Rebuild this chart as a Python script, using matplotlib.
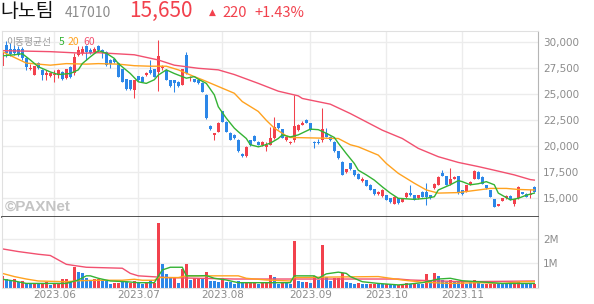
import matplotlib
matplotlib.use("Agg")
import matplotlib.pyplot as plt
import numpy as np

plt.rcParams['font.family'] = ['Noto Sans CJK KR', 'DejaVu Sans']

# daily candles, 2023-05-15 .. 2023-11-27 (index = trading day)
opens = [27750, 29750, 29400, 29400, 29400, 29350, 28450, 27400, 26850, 28050,
         27350, 26900, 26750, 26900, 26850, 27150, 26550, 27600, 27000, 28750,
         28950, 29600, 29300, 29100, 29650, 29250, 29100, 28300, 28350, 28050,
         27400, 26450, 26350, 25400, 26750, 26700, 26850, 27350, 27400, 27150,
         27500, 27350, 26350, 26350, 26200, 25900, 28800, 26550, 26450, 26350,
         26100, 24950, 21950, 21100, 21400, 23350, 22350, 21300, 21100, 20650,
         19300, 19050, 20600, 21000, 20450, 20150, 19950, 20150, 20750, 22200,
         21650, 20600, 20300, 20600, 21550, 22050, 22550, 22200, 20450, 20450,
         20600, 21250, 20900, 20450, 19500, 18500, 17550, 18350, 17700, 17350,
         16700, 16750, 16300, 15850, 15400, 15200, 15300, 15000, 14500, 15000,
         14650, 15100, 15500, 15300, 15000, 15650, 15650, 15300, 15950, 16300,
         17400, 17100, 16350, 16900, 17100, 15750, 15650, 16350, 16900, 17550,
         17050, 16250, 15750, 14900, 14300, 14750, 15000, 15250, 14500, 15000,
         15600, 15450, 15300, 16100]
highs = [29150, 30150, 29900, 29700, 29600, 29500, 28600, 27950, 27750, 28100,
         27400, 27350, 27150, 27350, 27400, 27250, 27450, 27700, 28950, 29600,
         29600, 29750, 29450, 29500, 29750, 29400, 29150, 28350, 28450, 28100,
         27450, 26500, 26400, 26400, 26800, 26750, 27100, 28300, 27450, 30200,
         27800, 27400, 26400, 26400, 26250, 27450, 29050, 26800, 26500, 26400,
         26150, 25000, 22000, 21300, 22300, 23400, 22400, 21350, 21150, 20700,
         19350, 20000, 20650, 21050, 20500, 20500, 20450, 21900, 22800, 22250,
         21700, 21000, 20500, 24900, 22100, 22400, 22600, 22250, 20500, 20700,
         23650, 21750, 20950, 20500, 19550, 18550, 17800, 18400, 17750, 17400,
         17000, 16800, 16350, 15900, 15700, 15850, 15350, 15050, 15200, 15050,
         15000, 15600, 16300, 15350, 15350, 15700, 16450, 15350, 16450, 17100,
         17700, 17150, 17950, 17100, 17150, 15800, 16300, 16650, 17700, 17600,
         17100, 16300, 15800, 14950, 14500, 15050, 15300, 15300, 14950, 16150,
         15650, 15500, 15850, 16150]
lows = [27700, 28600, 28700, 28800, 28700, 28300, 27350, 27300, 26850, 27400,
        26400, 26400, 26700, 26200, 26550, 26350, 26450, 26600, 26850, 28700,
        28800, 28300, 28900, 29000, 29100, 28450, 27700, 27500, 28000, 26650,
        26150, 25400, 25450, 24600, 26300, 26150, 26800, 26950, 26650, 25350,
        27300, 26350, 25700, 25250, 25700, 25850, 26950, 26300, 26150, 25950,
        25200, 22600, 21550, 20600, 21350, 22300, 21350, 20600, 20700, 19450,
        19000, 19000, 20050, 20500, 20100, 20050, 19500, 20100, 20700, 21650,
        20750, 20500, 20200, 20450, 21500, 22000, 22200, 21500, 19800, 20250,
        20450, 20850, 20550, 19450, 18800, 17200, 17450, 17750, 17150, 16850,
        16600, 16150, 15750, 15350, 15350, 15100, 14800, 14550, 14450, 14500,
        14600, 15050, 15250, 14800, 14900, 15100, 14350, 14950, 15900, 16250,
        17100, 16250, 16300, 16850, 15450, 15350, 15600, 16300, 16850, 16850,
        16350, 15900, 15150, 14150, 14250, 14700, 14950, 14800, 14300, 14950,
        15400, 15150, 15050, 15600]
closes = [29100, 28950, 28900, 28950, 28800, 28450, 27650, 27550, 27700, 27500,
          26850, 27000, 27050, 26950, 27350, 26450, 27400, 26700, 28600, 29250,
          29400, 29100, 29000, 29400, 29250, 29100, 27800, 27950, 28150, 26700,
          26200, 25500, 25500, 26350, 26350, 26200, 27050, 27000, 26700, 28650,
          27650, 26400, 25750, 26050, 25750, 27400, 27000, 26700, 26200, 26050,
          25250, 22700, 21650, 21250, 22250, 22350, 21400, 20650, 20750, 19500,
          19050, 19950, 20150, 20550, 20150, 20450, 20100, 20750, 21900, 21750,
          20800, 20900, 20450, 21950, 22050, 22200, 22200, 21550, 20300, 20300,
          21650, 20900, 20600, 19500, 18850, 17250, 17800, 17800, 17250, 16900,
          16900, 16200, 15800, 15400, 15650, 15800, 14850, 14650, 15150, 14550,
          14950, 15550, 15300, 14850, 15300, 15150, 15150, 15000, 16400, 17050,
          17150, 16300, 16900, 17050, 15500, 15400, 16250, 16600, 17650, 16900,
          16400, 15950, 15150, 14200, 14450, 15000, 15250, 14850, 14900, 16100,
          15400, 15150, 15430, 15650]

# traded volume (millions) and bar colour (R up / B down)
volumes = [0.47, 0.35, 0.30, 0.35, 0.24, 0.27, 0.19, 0.20, 0.20, 0.17,
           0.17, 0.24, 0.12, 0.17, 0.17, 0.35, 0.35, 0.24, 0.84, 0.63,
           0.58, 0.41, 0.30, 0.35, 0.35, 0.30, 0.27, 0.15, 0.17, 0.20,
           0.27, 0.24, 0.20, 0.27, 0.20, 0.15, 0.20, 0.30, 0.20, 2.65,
           0.97, 0.54, 0.38, 0.41, 0.17, 0.76, 0.95, 0.31, 0.41, 0.41,
           0.38, 0.63, 0.27, 0.27, 0.24, 0.38, 0.24, 0.24, 0.15, 0.27,
           0.20, 0.20, 0.20, 0.20, 0.15, 0.20, 0.17, 0.52, 0.43, 0.15,
           0.24, 0.20, 0.15, 1.91, 0.27, 0.23, 0.23, 0.20, 0.47, 0.30,
           1.75, 0.43, 0.27, 0.41, 0.41, 0.58, 0.23, 0.17, 0.15, 0.17,
           0.15, 0.15, 0.15, 0.15, 0.13, 0.13, 0.13, 0.10, 0.10, 0.10,
           0.15, 0.20, 0.15, 0.15, 0.15, 0.15, 0.56, 0.30, 0.60, 0.47,
           0.33, 0.23, 0.30, 0.23, 0.23, 0.23, 0.15, 0.23, 0.30, 0.20,
           0.15, 0.15, 0.15, 0.15, 0.15, 0.15, 0.15, 0.15, 0.15, 0.24,
           0.15, 0.15, 0.15, 0.15]
vol_dir = ("RBBRBRBBRB" "RRBRRRRBRB" "BBBRRBBBRR" "BBRRBBRBRR"
           "BBBRBRRBRR" "BRBBBRBBBB" "BRRRBRRRBB" "RBBRBBRBRB"
           "RBBRRRBBBR" "BBRRBBRBBR" "RRBRBBRBRB" "BBRBBRBBRB"
           "BRRRBBBBRR" "BBBR")

# moving averages (day index, value)
ma5_day = [0, 3, 5, 7, 9, 12, 14, 17, 19, 20, 22, 24, 26, 28, 29, 32, 34, 36, 38, 39,
           41, 43, 45, 46, 48, 49, 51, 53, 54, 56, 58, 59, 61, 62, 64, 65, 67, 69, 70, 72,
           74, 77, 79, 81, 83, 84, 86, 88, 89, 91, 93, 95, 97, 99, 103, 106, 108, 109, 112, 114,
           115, 117, 119, 121, 123, 124, 127, 129, 131, 133]
ma5_val = [28700, 28800, 28900, 28300, 27650, 27150, 26900, 27000, 27350, 27950,
           28600, 29200, 28950, 28450, 27950, 27000, 26200, 26050, 26400, 26850,
           27350, 27000, 26700, 26550, 26700, 26450, 26050, 24950, 23800, 22700,
           21750, 21400, 20750, 20150, 19950, 20050, 20300, 20750, 21100, 20900,
           21100, 21650, 21600, 21250, 20850, 20300, 19300, 18350, 17700, 17250,
           16750, 16100, 15500, 15000, 14900, 15000, 15150, 15800, 16300, 16700,
           16600, 16300, 16400, 16600, 16300, 15500, 14850, 15000, 15300, 15500]
ma20_day = [0, 6, 12, 16, 21, 24, 29, 33, 37, 41, 44, 48, 50, 54, 58, 60, 64, 66, 68, 71,
            72, 84, 87, 89, 94, 96, 99, 103, 106, 109, 114, 116, 119, 122, 126, 129, 133]
ma20_val = [29100, 28000, 27800, 27950, 27900, 27950, 27900, 27750, 27700, 27700,
            27350, 26700, 26400, 25750, 25100, 24300, 23350, 22500, 21750, 21000,
            20850, 20750, 20150, 19950, 19150, 18350, 17400, 16450, 15800, 15500,
            15550, 15650, 15800, 15950, 15950, 15850, 15800]
ma60_day = [0, 12, 20, 24, 33, 39, 43, 49, 54, 58, 64, 69, 74, 75, 82, 87, 91, 95, 100, 104,
            109, 114, 119, 123, 128, 132, 133]
ma60_val = [29200, 29100, 28950, 29000, 28800, 28300, 27800, 27500, 27350, 26900,
            26050, 25300, 24850, 24600, 24050, 23150, 22350, 21550, 20750, 19800,
            19000, 18450, 18050, 17700, 17250, 16800, 16750]

vma5_day = [0, 3, 6, 10, 16, 19, 21, 22, 24, 27, 31, 34, 38, 40, 42, 45, 46, 49, 51, 53,
            56, 59, 64, 72, 73, 78, 79, 81, 84, 86, 87, 90, 94, 99, 102, 105, 109, 112, 115, 119,
            125, 133]
vma5_val = [0.34, 0.27, 0.17, 0.17, 0.17, 0.31, 0.48, 0.48, 0.38, 0.27, 0.24, 0.20, 0.20,
            0.72, 0.83, 0.83, 0.48, 0.48, 0.49, 0.38, 0.31, 0.20, 0.20, 0.20, 0.48, 0.48,
            0.38, 0.56, 0.63, 0.58, 0.45, 0.24, 0.17, 0.11, 0.15, 0.20, 0.35, 0.38, 0.28,
            0.24, 0.17, 0.17]
vma20_day = [0, 3, 6, 9, 16, 19, 24, 30, 33, 35, 38, 39, 44, 46, 59, 61, 66, 72, 73, 82,
             94, 100, 105, 112, 119, 125, 130, 133]
vma20_val = [0.58, 0.45, 0.35, 0.27, 0.24, 0.28, 0.30, 0.30, 0.34, 0.30, 0.30, 0.41, 0.41,
             0.48, 0.48, 0.38, 0.31, 0.27, 0.41, 0.43, 0.45, 0.31, 0.22, 0.17, 0.20, 0.17,
             0.24, 0.24]
vma60_day = [0, 4, 9, 12, 14, 16, 18, 21, 30, 32, 34, 39, 41, 49, 58, 99, 102, 115, 133]
vma60_val = [1.58, 1.47, 1.36, 1.31, 1.13, 0.95, 0.90, 0.83, 0.79, 0.58, 0.48, 0.43, 0.41,
             0.38, 0.35, 0.35, 0.31, 0.24, 0.27]

month_day = [13, 34, 55, 77, 96, 115]
month_labels = ["2023.06", "2023.07", "2023.08", "2023.09", "2023.10", "2023.11"]
price_ticks = [15000, 17500, 20000, 22500, 25000, 27500, 30000]

RED = "#f2414d"
BLUE = "#2c87e8"
C5, C20, C60 = "#34b334", "#ffa21f", "#f2506f"
GRID = "#ececec"
TXT = "#8c8c8c"

W, H = 594, 304


def box(x0, y0, x1, y1):
    return [x0 / W, 1 - y1 / H, (x1 - x0) / W, (y1 - y0) / H]


fig = plt.figure(figsize=(W / 100, H / 100), dpi=100)
ax = fig.add_axes(box(2, 31, 537.7, 217))
axv = fig.add_axes(box(2, 217, 537.7, 287.6))

o = np.array(opens)
c = np.array(closes)
x = np.arange(len(o))
up = c >= o
col = np.where(up, RED, BLUE)

for a in (ax, axv):
    a.set_xlim(-0.075, 133.85)
    a.set_xticks(month_day)
    a.grid(True, color=GRID, lw=1)
    a.set_axisbelow(True)
    a.tick_params(length=0)
    for s in ("left", "top"):
        a.spines[s].set_color("#e0e0e0")
    a.spines["right"].set_color("#b5b5b5")

# price panel
ax.vlines(x, lows, highs, color=col, lw=0.75)
body = np.maximum(np.abs(c - o), 60)
ax.bar(x, body, bottom=np.minimum(o, c), width=0.75, color=col, lw=0)
ax.plot(ma60_day, ma60_val, color=C60, lw=1)
ax.plot(ma20_day, ma20_val, color=C20, lw=1)
ax.plot(ma5_day, ma5_val, color=C5, lw=1)
ax.set_ylim(13202, 31086)
ax.set_yticks(price_ticks)
ax.yaxis.tick_right()
ax.set_yticklabels([f"{t:,}" for t in price_ticks], color=TXT, fontsize=7.5,
                   family=['DejaVu Sans'])
ax.tick_params(axis="y", pad=4)
ax.set_xticklabels([])
ax.spines["bottom"].set_color("#333333")
ax.spines["bottom"].set_linewidth(1.2)

# volume panel
vcol = [RED if d == "R" else BLUE for d in vol_dir]
axv.bar(x, volumes, width=0.75, color=vcol, lw=0)
axv.plot(vma60_day, vma60_val, color=C60, lw=1)
axv.plot(vma20_day, vma20_val, color=C20, lw=1)
axv.plot(vma5_day, vma5_val, color=C5, lw=1)
axv.set_ylim(0, 2.88)
axv.set_yticks([1, 2])
axv.yaxis.tick_right()
axv.set_yticklabels(["1M", "2M"], color=TXT, fontsize=7.5, family=['DejaVu Sans'])
axv.tick_params(axis="y", pad=4)
axv.set_xticklabels(month_labels, color=TXT, fontsize=7.5, family=['DejaVu Sans'])
axv.tick_params(axis="x", pad=2)
axv.spines["top"].set_visible(False)
axv.spines["bottom"].set_color("#e0e0e0")


# header
def put(px, py, s, **kw):
    fig.text(px / W, 1 - py / H, s, va="baseline", ha="left", **kw)


put(0, 17, "나노팀", fontsize=14, color="#111111")
put(65, 17, "417010", fontsize=10, color="#8c8c8c")
put(129, 17, "15,650", fontsize=15, color=RED)
put(209, 15, "▲", fontsize=6.5, color=RED, family=['DejaVu Sans'])
put(222, 17, "220", fontsize=10.5, color=RED)
put(254, 17, "+1.43%", fontsize=10.5, color=RED)

put(6, 45, "이동평균선", fontsize=7, color="#9a9a9a")
put(59, 45, "5", fontsize=7.5, color=C5)
put(68, 45, "20", fontsize=7.5, color=C20)
put(83, 45, "60", fontsize=7.5, color=C60)

put(5, 211, "©PAXNet", fontsize=11, color="#c4c4c4", weight="bold",
    family=['Liberation Sans', 'DejaVu Sans'])

fig.savefig("out.png", dpi=100)
